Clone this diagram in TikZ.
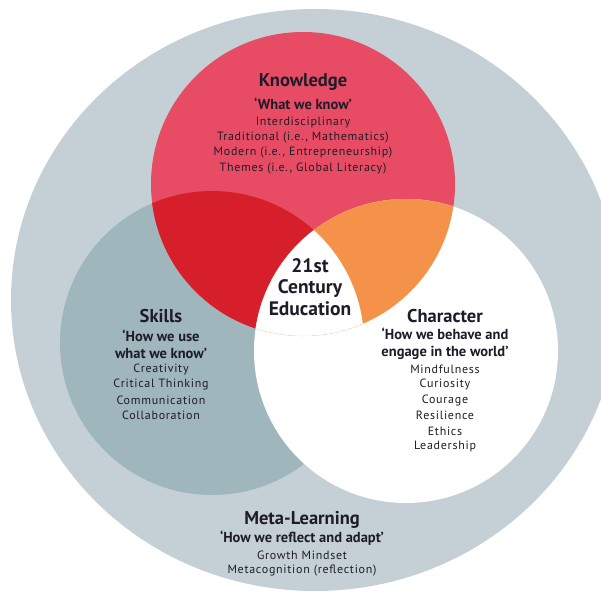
\documentclass[tikz,border=0pt]{standalone}
\usepackage{fontspec}
\setmainfont{PT Sans}
\usepackage{tikz}
\definecolor{metagray}{RGB}{197,208,214}
\definecolor{skillgray}{RGB}{160,182,189}
\definecolor{knowred}{RGB}{232,76,100}
\definecolor{deepred}{RGB}{215,31,44}
\definecolor{charorange}{RGB}{243,146,72}
\definecolor{ink}{RGB}{30,28,40}
\tikzset{
	every label text/.style={
		inner sep=0pt,
		text=ink
	},
	heading/.style={
		every label text,
		font=\bfseries\fontsize{18.5}{18.5}\selectfont
	},
	tagline/.style={
		every label text,
		align=center,
		font=\bfseries\fontsize{14.5}{17}\selectfont
	},
	entry/.style={
		every label text,
		font=\fontsize{12}{12}\selectfont\addfontfeature{LetterSpace=6}
	},
}

\begin{document}
\begin{tikzpicture}[x=1pt, y=1pt]

\clip (0,0) rectangle (601,595);

\coordinate (meta-c) at (315,295);
\coordinate (know-c) at (303,411);
\coordinate (skill-c) at (212,252);
\coordinate (char-c) at (406,244);

\fill [metagray] (meta-c) ellipse [x radius=304, y radius=291];
\fill [skillgray] (skill-c) circle [radius=152];
\fill [knowred] (know-c) circle [radius=152];

\begin{scope}
	\clip (know-c) circle [radius=152];
	\fill [deepred] (skill-c) circle [radius=152];
\end{scope}

\fill [white] (char-c) circle [radius=152];

\begin{scope}
	\clip (know-c) circle [radius=152];
	\fill [charorange] (char-c) circle [radius=152];
	\clip (skill-c) circle [radius=152];
	\fill [white] (char-c) circle [radius=152];
\end{scope}

\begin{scope}
	\clip (skill-c) circle [radius=152];
	\clip (char-c) circle [radius=152];
	\draw [knowred!40, dashed, very thin] (know-c) circle [radius=152];
\end{scope}

\node [heading] (know-title) at (303,513) {Knowledge};
\node [tagline] (know-tag) at (303,491) {`What we know'};
\foreach \t [count=\i] in {Interdisciplinary, {Traditional (i.e., Mathematics)},
	{Modern (i.e., Entrepreneurship)}, {Themes (i.e., Global Literacy)}}
	\node [entry] (know-\i) at (303,473-15.5*\i+15.5) {\t};

\node [heading, align=center, font=\bfseries\fontsize{19.5}{21.5}\selectfont]
	(centre) at (310,308) {21st\\Century\\Education};

\node [heading] (skill-title) at (161,279) {Skills};
\node [tagline] (skill-tag) at (161,251) {`How we use\\what we know'};
\foreach \t [count=\i] in {Creativity, Critical Thinking, Communication, Collaboration}
	\node [entry] (skill-\i) at (161,226-15.5*\i+15.5) {\t};

\node [heading] (char-title) at (445,279) {Character};
\node [tagline] (char-tag) at (445,251) {`How we behave and\\engage in the world'};
\foreach \t [count=\i] in {Mindfulness, Curiosity, Courage, Resilience, Ethics, Leadership}
	\node [entry] (char-\i) at (445,226-15.5*\i+15.5) {\t};

\node [heading] (meta-title) at (302,75) {Meta-Learning};
\node [tagline] (meta-tag) at (302,57) {`How we reflect and adapt'};
\foreach \t [count=\i] in {Growth Mindset, Metacognition (reflection)}
	\node [entry] (meta-\i) at (302,40-15.5*\i+15.5) {\t};

\end{tikzpicture}
\end{document}
